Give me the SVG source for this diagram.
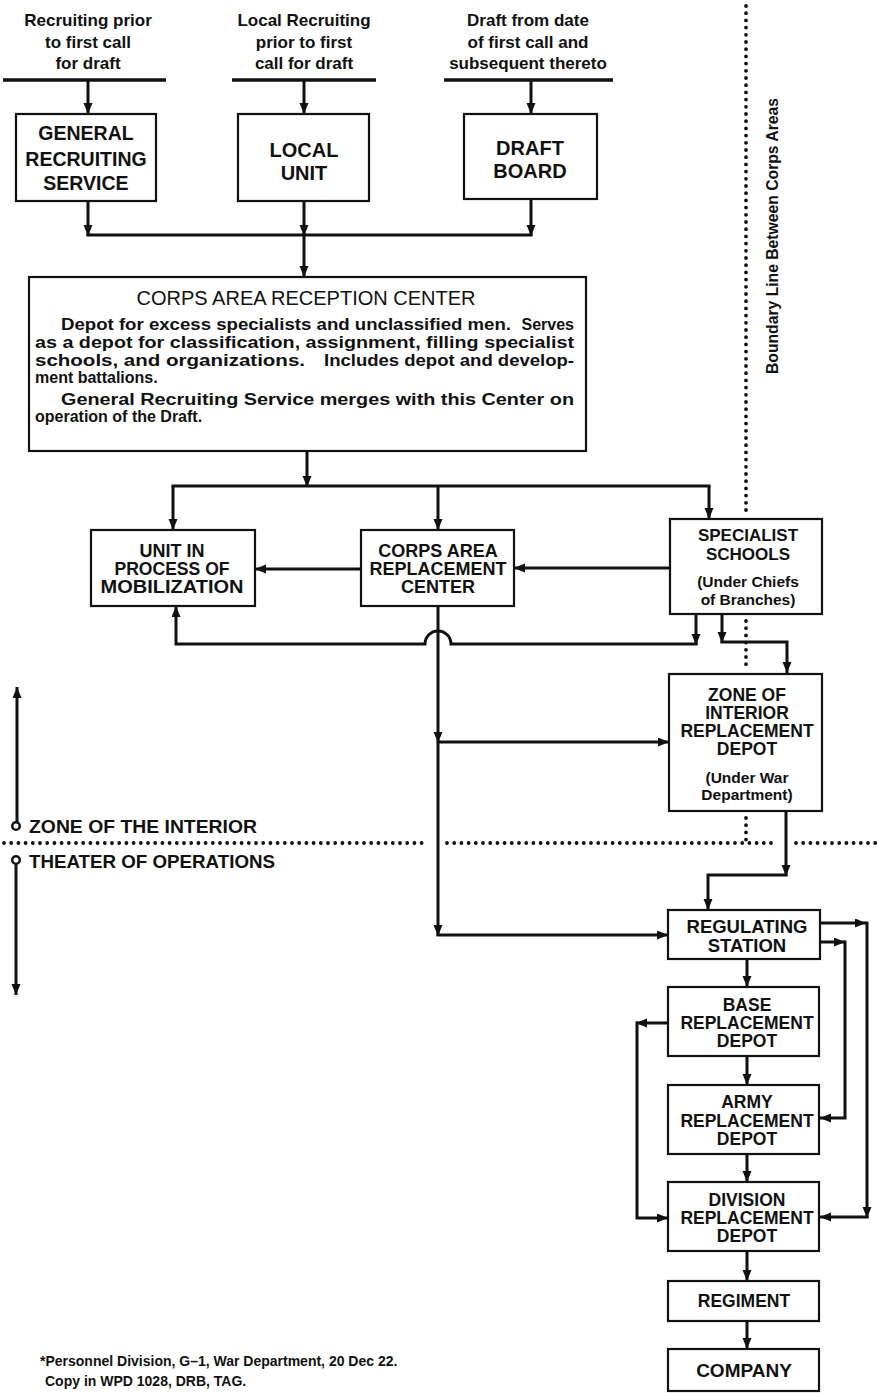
<svg xmlns="http://www.w3.org/2000/svg" width="877" height="1393" viewBox="0 0 877 1393">
<style>
text{font-family:"Liberation Sans",Arial,sans-serif;fill:#111;}
.b{font-weight:bold;}
.lbl{font-size:17px;font-weight:bold;text-anchor:middle;}
.bx{fill:#fff;stroke:#111;stroke-width:2.2;}
.c{fill:none;stroke:#111;stroke-width:3;stroke-linejoin:miter;}
.ca{fill:none;stroke:#111;stroke-width:3;marker-end:url(#ah);}
.bar{stroke:#111;stroke-width:3.5;}
.dot{fill:none;stroke:#111;stroke-width:3.8;stroke-linecap:round;stroke-dasharray:0 7.2;}
.t{text-anchor:middle;font-weight:bold;}
.body{font-size:16px;font-weight:bold;}
</style>
<defs>
<marker id="ah" markerUnits="userSpaceOnUse" markerWidth="12" markerHeight="10" refX="11" refY="4.5" orient="auto">
<path d="M0,0 L11,4.5 L0,9 z" fill="#111"/>
</marker>
</defs>
<rect width="877" height="1393" fill="#fff"/>

<g id="labels-top">
<text class="lbl" x="88" y="26">Recruiting prior</text>
<text class="lbl" x="88" y="48">to first call</text>
<text class="lbl" x="88" y="69">for draft</text>
<text class="lbl" x="304" y="26">Local Recruiting</text>
<text class="lbl" x="304" y="48">prior to first</text>
<text class="lbl" x="304" y="69">call for draft</text>
<text class="lbl" x="528" y="26">Draft from date</text>
<text class="lbl" x="528" y="48">of first call and</text>
<text class="lbl" x="528" y="69">subsequent thereto</text>
<line class="bar" x1="3" y1="80" x2="166" y2="80"/>
<line class="bar" x1="232" y1="80" x2="376" y2="80"/>
<line class="bar" x1="444" y1="80" x2="613" y2="80"/>
</g>

<g id="boundaries">
<path class="dot" d="M746,6 V514"/>
<path class="dot" d="M746,621 V668"/>
<path class="dot" d="M746,818 V840"/>
<path class="dot" d="M4,843 H428"/>
<path class="dot" d="M447,843 H777"/>
<path class="dot" d="M796,843 H877"/>
<text class="b" font-size="16" transform="translate(778,236) rotate(-90)" text-anchor="middle" textLength="276" lengthAdjust="spacingAndGlyphs">Boundary Line Between Corps Areas</text>
</g>

<g id="zones">
<path class="ca" d="M17,822 V687" stroke-width="2.5"/>
<circle cx="16" cy="826" r="3.8" fill="#fff" stroke="#111" stroke-width="2.5"/>
<text class="b" x="29" y="833" font-size="18" textLength="228" lengthAdjust="spacingAndGlyphs">ZONE OF THE INTERIOR</text>
<text class="b" x="29" y="868" font-size="18" textLength="246" lengthAdjust="spacingAndGlyphs">THEATER OF OPERATIONS</text>
<circle cx="16" cy="860" r="3.8" fill="#fff" stroke="#111" stroke-width="2.5"/>
<path class="ca" d="M16,864 V995" stroke-width="2.5"/>
</g>

<g id="connectors">
<path class="ca" d="M88,80 V114"/>
<path class="ca" d="M304,80 V114"/>
<path class="ca" d="M531,80 V114"/>
<path class="ca" d="M88,201 V236"/>
<path class="ca" d="M304,201 V236"/>
<path class="ca" d="M531,199 V236"/>
<path class="c" d="M86.5,235 H532.5"/>
<path class="ca" d="M304,235 V277"/>
<path class="ca" d="M307,451 V487"/>
<path class="c" d="M171.5,486 H710.5"/>
<path class="ca" d="M173,486 V530"/>
<path class="ca" d="M438,486 V530"/>
<path class="ca" d="M709,486 V519"/>
<path class="ca" d="M670,568 H514"/>
<path class="ca" d="M361,569 H255"/>
<path class="ca" d="M696,614 V645"/>
<path class="ca" d="M697.5,644 H451 A13,13 0 0 0 425,644 H176 V606"/>
<path class="ca" d="M722,614 V643"/>
<path class="ca" d="M720.5,642 H787 V673"/>
<path class="ca" d="M438,606 V743"/>
<path class="ca" d="M438,742 H669"/>
<path class="ca" d="M438,742 V936"/>
<path class="ca" d="M436.5,935 H668"/>
<path class="ca" d="M786,811 V876"/>
<path class="ca" d="M787.5,875 H708 V910"/>
<path class="ca" d="M747,959 V987"/>
<path class="ca" d="M747,1056 V1085"/>
<path class="ca" d="M747,1154 V1182"/>
<path class="ca" d="M747,1251 V1281"/>
<path class="ca" d="M747,1321 V1349"/>
<path class="ca" d="M820,923 H866"/>
<path class="ca" d="M867,921.5 V1218"/>
<path class="ca" d="M868.5,1217 H820"/>
<path class="ca" d="M820,942 H845"/>
<path class="ca" d="M845,940.5 V1118 H820"/>
<path class="ca" d="M668,1023 H636"/>
<path class="ca" d="M637,1021.5 V1218 H668"/>
</g>

<g id="n-grs">
<rect class="bx" x="16" y="114" width="140" height="87"/>
<text class="t" x="86" y="140" font-size="19.5">GENERAL</text>
<text class="t" x="86" y="166" font-size="19.5">RECRUITING</text>
<text class="t" x="86" y="190" font-size="19.5">SERVICE</text>
</g>
<g id="n-local">
<rect class="bx" x="238" y="114" width="131" height="87"/>
<text class="t" x="304" y="157" font-size="20">LOCAL</text>
<text class="t" x="304" y="180" font-size="20">UNIT</text>
</g>
<g id="n-draft">
<rect class="bx" x="464" y="114" width="133" height="85"/>
<text class="t" x="530" y="155" font-size="20">DRAFT</text>
<text class="t" x="530" y="178" font-size="20">BOARD</text>
</g>

<g id="n-reception">
<rect class="bx" x="29" y="277" width="557" height="174"/>
<text x="306" y="305" font-size="20" text-anchor="middle">CORPS AREA RECEPTION CENTER</text>
<text class="body" x="61" y="330" textLength="450" lengthAdjust="spacingAndGlyphs">Depot for excess specialists and unclassified men.</text>
<text class="body" x="574" y="330" text-anchor="end">Serves</text>
<text class="body" x="35" y="348" textLength="539" lengthAdjust="spacingAndGlyphs">as a depot for classification, assignment, filling specialist</text>
<text class="body" x="35" y="366" textLength="270" lengthAdjust="spacingAndGlyphs">schools, and organizations.</text>
<text class="body" x="324" y="366" textLength="250" lengthAdjust="spacingAndGlyphs">Includes depot and develop-</text>
<text class="body" x="35" y="383">ment battalions.</text>
<text class="body" x="61" y="405" textLength="513" lengthAdjust="spacingAndGlyphs">General Recruiting Service merges with this Center on</text>
<text class="body" x="35" y="422">operation of the Draft.</text>
</g>

<g id="n-unit">
<rect class="bx" x="91" y="530" width="164" height="76"/>
<text class="t" x="172" y="557" font-size="18">UNIT IN</text>
<text class="t" x="172" y="575" font-size="18" textLength="115" lengthAdjust="spacingAndGlyphs">PROCESS OF</text>
<text class="t" x="172" y="593" font-size="18" textLength="143" lengthAdjust="spacingAndGlyphs">MOBILIZATION</text>
</g>
<g id="n-carc">
<rect class="bx" x="361" y="530" width="153" height="76"/>
<text class="t" x="438" y="557" font-size="18">CORPS AREA</text>
<text class="t" x="438" y="575" font-size="18">REPLACEMENT</text>
<text class="t" x="438" y="593" font-size="18">CENTER</text>
</g>
<g id="n-spec">
<rect class="bx" x="670" y="519" width="152" height="95"/>
<text class="t" x="748" y="541" font-size="17">SPECIALIST</text>
<text class="t" x="748" y="560" font-size="17">SCHOOLS</text>
<text class="t" x="748" y="587" font-size="15.5">(Under Chiefs</text>
<text class="t" x="748" y="605" font-size="15.5">of Branches)</text>
</g>
<g id="n-zi">
<rect class="bx" x="669" y="674" width="153" height="137"/>
<text class="t" x="747" y="701" font-size="17.5">ZONE OF</text>
<text class="t" x="747" y="719" font-size="17.5">INTERIOR</text>
<text class="t" x="747" y="737" font-size="17.5">REPLACEMENT</text>
<text class="t" x="747" y="755" font-size="17.5">DEPOT</text>
<text class="t" x="747" y="783" font-size="15.5">(Under War</text>
<text class="t" x="747" y="800" font-size="15.5">Department)</text>
</g>
<g id="n-reg">
<rect class="bx" x="668" y="910" width="152" height="49"/>
<text class="t" x="747" y="933" font-size="18.5">REGULATING</text>
<text class="t" x="747" y="952" font-size="18.5">STATION</text>
</g>
<g id="n-base">
<rect class="bx" x="668" y="987" width="151" height="69"/>
<text class="t" x="747" y="1011" font-size="17.5">BASE</text>
<text class="t" x="747" y="1029" font-size="17.5">REPLACEMENT</text>
<text class="t" x="747" y="1047" font-size="17.5">DEPOT</text>
</g>
<g id="n-army">
<rect class="bx" x="668" y="1085" width="151" height="69"/>
<text class="t" x="747" y="1108" font-size="17.5">ARMY</text>
<text class="t" x="747" y="1127" font-size="17.5">REPLACEMENT</text>
<text class="t" x="747" y="1145" font-size="17.5">DEPOT</text>
</g>
<g id="n-div">
<rect class="bx" x="668" y="1182" width="151" height="69"/>
<text class="t" x="747" y="1206" font-size="17.5">DIVISION</text>
<text class="t" x="747" y="1224" font-size="17.5">REPLACEMENT</text>
<text class="t" x="747" y="1242" font-size="17.5">DEPOT</text>
</g>
<g id="n-regiment">
<rect class="bx" x="668" y="1281" width="151" height="40"/>
<text class="t" x="744" y="1307" font-size="17.5">REGIMENT</text>
</g>
<g id="n-company">
<rect class="bx" x="668" y="1349" width="151" height="42"/>
<text class="t" x="744" y="1377" font-size="19">COMPANY</text>
</g>

<g id="footnote">
<text class="b" x="40" y="1366" font-size="14">*Personnel Division, G–1, War Department, 20 Dec 22.</text>
<text class="b" x="45" y="1386" font-size="14">Copy in WPD 1028, DRB, TAG.</text>
</g>
</svg>
